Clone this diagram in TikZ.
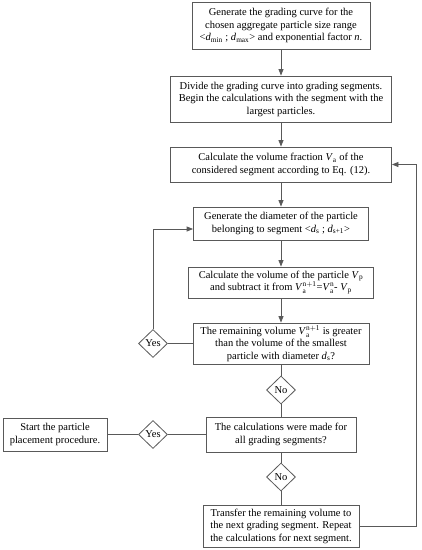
\documentclass[tikz,border=0pt]{standalone}
\usepackage{fontspec}
\setmainfont{Liberation Serif}
\usetikzlibrary{arrows.meta,shapes.geometric}
\begin{document}
\begin{tikzpicture}[x=1pt,y=-1pt,
  line/.style={draw=black!65,line width=0.8pt},
  arr/.style={line,-{Triangle[length=6.5pt,width=5pt]}},
  box/.style={line,rectangle,inner sep=0pt,align=center,font=\fontsize{10.5}{12.5}\selectfont},
  dia/.style={line,diamond,inner sep=0pt,minimum width=29pt,minimum height=28pt,font=\fontsize{10.5}{12}\selectfont}]
\useasboundingbox (0,0) rectangle (422,550);
\node[box,minimum width=178pt,minimum height=47pt] (b1) at (281,25.5)
 {Generate the grading curve for the\\chosen aggregate particle size range\\<\textit{d}\textsubscript{min} ; \textit{d}\textsubscript{max}> and exponential factor \textit{n}.};
\node[box,minimum width=221pt,minimum height=46pt] (b2) at (281,99)
 {Divide the grading curve into grading segments.\\Begin the calculations with the segment with the\\largest particles.};
\node[box,minimum width=221pt,minimum height=35pt] (b3) at (281,164.5)
 {Calculate the volume fraction \textit{V}\textsubscript{a} of the\\considered segment according to Eq. (12).};
\node[box,minimum width=175pt,minimum height=33pt] (b4) at (281,223.5)
 {Generate the diameter of the particle\\belonging to segment <\textit{d}\textsubscript{s} ; \textit{d}\textsubscript{s+1}>};
\node[box,minimum width=185pt,minimum height=31pt] (b5) at (281,282.5)
 {Calculate the volume of the particle \textit{V}\textsubscript{p}\\and subtract it from \textit{V}$^{\mathrm{n+1}}_{\mathrm{a}}$=\textit{V}$^{\mathrm{n}}_{\mathrm{a}}$- \textit{V}\textsubscript{p}};
\node[box,minimum width=176pt,minimum height=41pt] (b6) at (281,343.5)
 {The remaining volume \textit{V}$^{\mathrm{n+1}}_{\mathrm{a}}$ is greater\\than the volume of the smallest\\particle with diameter \textit{d}\textsubscript{s}?};
\node[dia] (y1) at (153,343.5) {\makebox[0pt]{Yes}};
\node[dia] (n1) at (281,390) {\makebox[0pt]{No}};
\node[box,minimum width=150pt,minimum height=35pt] (b7) at (281,434.5)
 {The calculations were made for\\all grading segments?};
\node[dia] (y2) at (153,434.5) {\makebox[0pt]{Yes}};
\node[box,minimum width=104pt,minimum height=33pt] (b8) at (55,434.5)
 {Start the particle\\placement procedure.};
\node[dia] (n2) at (281,477) {\makebox[0pt]{No}};
\node[box,minimum width=156pt,minimum height=42pt] (b9) at (281,526)
 {Transfer the remaining volume to\\the next grading segment. Repeat\\the calculations for next segment.};
\coordinate (lt) at (153,229);
\coordinate (rb) at (416,526);
\coordinate (rt) at (416,164.5);
\draw[arr] (b1) -- (b2);
\draw[arr] (b2) -- (b3);
\draw[arr] (b3) -- (b4);
\draw[arr] (b4) -- (b5);
\draw[arr] (b5) -- (b6);
\draw[line] (b6) -- (y1);
\draw[line] (b6) -- (n1);
\draw[line] (n1) -- (b7);
\draw[line] (b7) -- (y2);
\draw[line] (y2) -- (b8);
\draw[line] (b7) -- (n2);
\draw[line] (n2) -- (b9);
\draw[arr] (y1.north) -- (lt) -- (lt -| b4.west);
\draw[arr] (b9.east) -- (rb) -- (rt) -- (b3.east);
\end{tikzpicture}
\end{document}
